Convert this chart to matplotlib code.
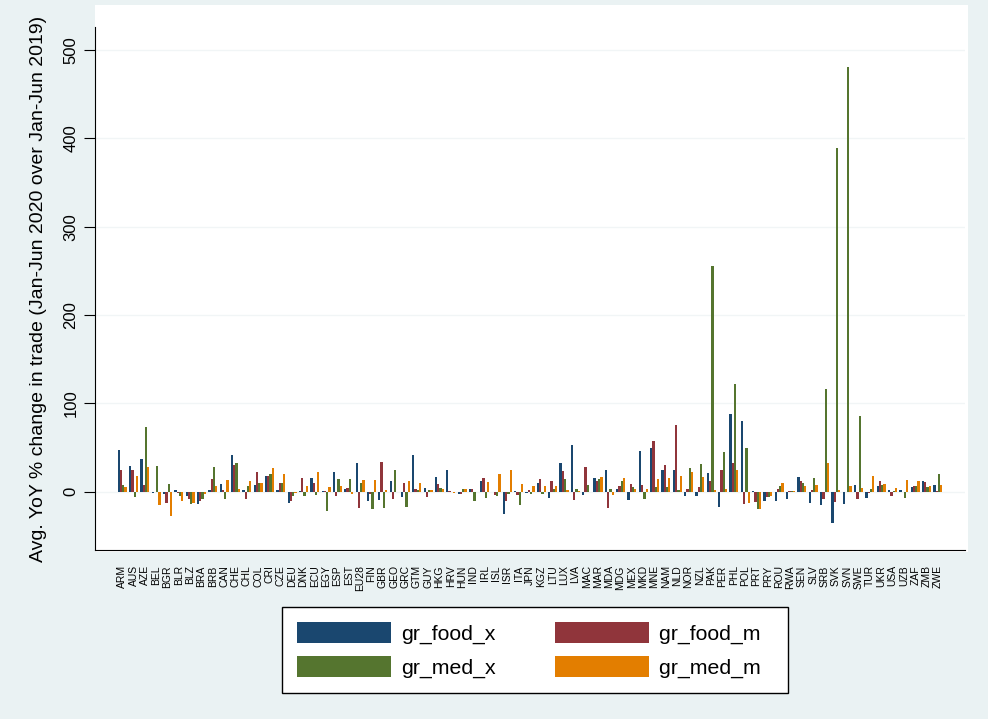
import matplotlib.pyplot as plt
import numpy as np
from matplotlib.patches import Rectangle

plt.rcParams['font.family'] = ['Liberation Sans', 'DejaVu Sans']

#国家代码
countries = ["ARM", "AUS", "AZE", "BEL", "BGR", "BLR", "BLZ", "BRA", "BRB", "CAN",
             "CHE", "CHL", "COL", "CRI", "CZE", "DEU", "DNK", "ECU", "EGY", "ESP",
             "EST", "EU28", "FIN", "GBR", "GEO", "GRC", "GTM", "GUY", "HKG", "HRV",
             "HUN", "IND", "IRL", "ISL", "ISR", "ITA", "JPN", "KGZ", "LTU", "LUX",
             "LVA", "MAC", "MAR", "MDA", "MDG", "MEX", "MKD", "MNE", "NAM", "NLD",
             "NOR", "NZL", "PAK", "PER", "PHL", "POL", "PRT", "PRY", "ROU", "RWA",
             "SEN", "SLV", "SRB", "SVK", "SVN", "SWE", "TUR", "UKR", "USA", "UZB",
             "ZAF", "ZMB", "ZWE"]

gr_food_x = [47, 29, 37, -1, -3, 2, -5, -14, 2, 9,
             42, 2, 8, 18, 2, -13, 1, 16, 1, 22,
             3, 33, -10, -9, 12, -6, 42, 4, 17, 24,
             -3, 3, 12, 0, -25, 1, -2, 10, -7, 32,
             53, -4, 16, 25, 3, -9, 46, 50, 25, 24,
             -5, -5, 21, -17, 88, 80, 1, -10, -10, -8,
             17, -13, -15, -36, -14, 8, -7, 6, 2, 2,
             5, 12, 8]
gr_food_m = [25, 25, 8, 0, -13, -2, -8, -10, 14, 2,
             30, -8, 22, 18, 10, -10, 16, 10, 1, -5,
             4, -18, -3, 34, -8, 10, 3, -6, 9, 1,
             -3, 3, 16, -4, -10, -4, 2, 14, 12, 23,
             -9, 28, 12, -19, 6, 9, 8, 57, 30, 76,
             3, 5, 12, 24, 33, -14, -12, -6, 3, 1,
             12, 2, -8, -12, 0, -8, -2, 12, -5, 0,
             6, 11, 1]
gr_med_x = [8, -6, 73, 29, 9, -5, -14, -8, 28, -8,
            32, 6, 10, 20, 10, -5, -5, -4, -22, 14,
            14, 10, -20, -19, 24, -17, 2, 2, 4, 0,
            3, -10, -7, -5, -3, -15, -3, -3, 3, 14,
            3, 8, 14, 3, 12, 5, -8, 5, 5, 2,
            27, 31, 255, 45, 122, 50, -20, -6, 6, 1,
            10, 15, 116, 389, 481, 86, 3, 8, 1, -7,
            7, 5, 20]
gr_med_m = [5, 18, 28, -15, -28, -10, -13, -3, 7, 13,
            3, 12, 10, 27, 20, -2, 6, 22, 5, 6,
            -3, 13, 13, 2, 0, 12, 10, 2, 3, -2,
            3, 0, 11, 20, 25, 9, 7, 7, 6, 2,
            1, 0, 17, -4, 15, 3, 3, 14, 15, 18,
            22, 17, 2, 3, 25, -13, -20, -5, 10, 1,
            7, 8, 32, 2, 6, 4, 18, 9, 4, 13,
            12, 7, 8]

series = [("gr_food_x", gr_food_x, "#1a476f"),
          ("gr_food_m", gr_food_m, "#90353b"),
          ("gr_med_x", gr_med_x, "#55752f"),
          ("gr_med_m", gr_med_m, "#e37e00")]

W, H = 988, 719
fig = plt.figure(figsize=(W / 100, H / 100), dpi=100)
fig.patch.set_facecolor("#eaf2f3")
#白色绘图区
fig.patches.append(Rectangle((95 / W, 1 - 552 / H), 873 / W, 547 / H,
                             transform=fig.transFigure, facecolor="white",
                             edgecolor="none", zorder=-5))

ax = fig.add_axes([95 / W, 1 - 550 / H, 870 / W, 523 / H])
ax.set_facecolor("white")
ax.set_zorder(2)

x = np.arange(len(countries))
bw = 0.2
offsets = [-0.3, -0.1, 0.1, 0.3]
handles = []
for (name, vals, col), off in zip(series, offsets):
    b = ax.bar(x + off, vals, width=bw, color=col, label=name, zorder=3)
    handles.append(b)

ax.set_xlim(-2.4, 74.4)
ax.set_ylim(-66, 526)
ax.set_yticks([0, 100, 200, 300, 400, 500])
ax.set_yticklabels(["0", "100", "200", "300", "400", "500"], rotation=90, va="center", fontsize=12)
ax.set_xticks(x)
ax.set_xticklabels(countries, rotation=90, fontsize=7.5, va="top")
ax.tick_params(axis="x", length=0, pad=11)
ax.tick_params(axis="y", length=8, pad=4)
ax.set_ylabel("Avg. YoY % change in trade (Jan-Jun 2020 over Jan-Jun 2019)", fontsize=14, labelpad=12)
ax.grid(axis="y", color="#f1f5f6", linewidth=1, zorder=0)
ax.spines["top"].set_visible(False)
ax.spines["right"].set_visible(False)

#图例
order = [handles[0], handles[2], handles[1], handles[3]]
labels = ["gr_food_x", "gr_med_x", "gr_food_m  ", "gr_med_m  "]
leg = fig.legend(order, labels, ncol=2, loc="center",
                 bbox_to_anchor=(535 / W, 1 - 650 / H), fontsize=15.3,
                 frameon=True, fancybox=False, edgecolor="black",
                 facecolor="white", framealpha=1,
                 handlelength=4.4, handleheight=1.15, labelspacing=0.6,
                 columnspacing=2.8, handletextpad=0.5, borderpad=0.7)
leg.get_frame().set_linewidth(1.0)

fig.savefig("out.png", dpi=100, facecolor=fig.get_facecolor())
